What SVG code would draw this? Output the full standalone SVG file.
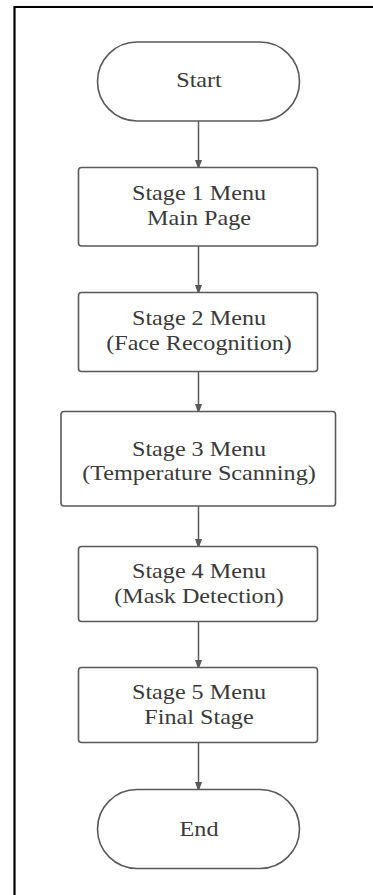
<svg xmlns="http://www.w3.org/2000/svg" width="373" height="895" viewBox="0 0 373 895">
  <style>
    .shape { fill: #ffffff; stroke: #5a5a5a; stroke-width: 1.6; }
    .label { font-family: "Liberation Serif", "Times New Roman", "DejaVu Serif", serif; font-size: 21px; fill: #3a3a3a; text-anchor: middle; }
    .link { stroke: #5a5a5a; stroke-width: 1.5; fill: none; }
    .frame { stroke: #000000; stroke-width: 2.2; fill: none; }
  </style>
  <defs>
    <marker id="head" markerWidth="10" markerHeight="14" refX="10" refY="5" orient="auto" markerUnits="userSpaceOnUse" viewBox="0 0 14 10">
      <path d="M0,0 L14,5 L0,10 Z" fill="#5a5a5a"/>
    </marker>
  </defs>
  <rect width="373" height="895" fill="#ffffff"/>
  <!-- outer frame (top and left borders) -->
  <path class="frame" d="M14.5,895 L14.5,7 L373,7"/>

  <g id="connectors">
    <line class="link" x1="198.5" y1="121" x2="198.5" y2="167" marker-end="url(#head)"/>
    <line class="link" x1="198.5" y1="246" x2="198.5" y2="292" marker-end="url(#head)"/>
    <line class="link" x1="198.5" y1="372" x2="198.5" y2="411" marker-end="url(#head)"/>
    <line class="link" x1="198.5" y1="506" x2="198.5" y2="546" marker-end="url(#head)"/>
    <line class="link" x1="198.5" y1="622" x2="198.5" y2="667" marker-end="url(#head)"/>
    <line class="link" x1="198.5" y1="743" x2="198.5" y2="789" marker-end="url(#head)"/>
  </g>

  <g id="start">
    <rect class="shape" x="97.5" y="42" width="202" height="79" rx="39.5" ry="39.5"/>
    <text class="label" transform="translate(199,87) scale(1.15,1)">Start</text>
  </g>

  <g id="stage1">
    <rect class="shape" x="78.5" y="167.5" width="239" height="78.5" rx="3"/>
    <text class="label" transform="translate(199,200) scale(1.15,1)">Stage 1 Menu</text>
    <text class="label" transform="translate(199,225) scale(1.15,1)">Main Page</text>
  </g>

  <g id="stage2">
    <rect class="shape" x="78.5" y="292.5" width="239" height="79" rx="3"/>
    <text class="label" transform="translate(199,325) scale(1.15,1)">Stage 2 Menu</text>
    <text class="label" transform="translate(199,350) scale(1.15,1)">(Face Recognition)</text>
  </g>

  <g id="stage3">
    <rect class="shape" x="61" y="411.5" width="274.5" height="94.5" rx="3"/>
    <text class="label" transform="translate(199,456) scale(1.15,1)">Stage 3 Menu</text>
    <text class="label" transform="translate(199,480) scale(1.15,1)">(Temperature Scanning)</text>
  </g>

  <g id="stage4">
    <rect class="shape" x="78.5" y="546.5" width="239" height="75" rx="3"/>
    <text class="label" transform="translate(199,578) scale(1.15,1)">Stage 4 Menu</text>
    <text class="label" transform="translate(199,603) scale(1.15,1)">(Mask Detection)</text>
  </g>

  <g id="stage5">
    <rect class="shape" x="78.5" y="667.5" width="239" height="75" rx="3"/>
    <text class="label" transform="translate(199,699) scale(1.15,1)">Stage 5 Menu</text>
    <text class="label" transform="translate(199,724) scale(1.15,1)">Final Stage</text>
  </g>

  <g id="end">
    <rect class="shape" x="97.5" y="789.5" width="202" height="79" rx="39.5" ry="39.5"/>
    <text class="label" transform="translate(199,836) scale(1.15,1)">End</text>
  </g>
</svg>
